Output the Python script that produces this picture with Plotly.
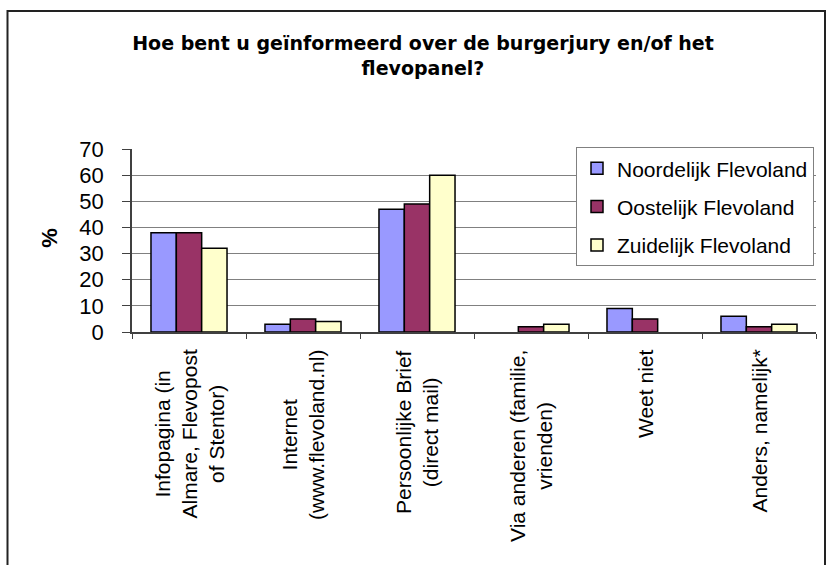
import plotly.graph_objects as go

# category labels (as printed under the axis)
categories = [
    "Infopagina (in<br>Almare, Flevopost<br>of Stentor)",
    "Internet<br>(www.flevoland.nl)",
    "Persoonlijke Brief<br>(direct mail)",
    "Via anderen (familie,<br>vrienden)",
    "Weet niet",
    "Anders, namelijk*",
]
series_names = ["Noordelijk Flevoland", "Oostelijk Flevoland", "Zuidelijk Flevoland"]
noord = [38, 3, 47, 0, 9, 6]
oost = [38, 5, 49, 2, 5, 2]
zuid = [32, 4, 60, 3, 0, 3]
y_ticks = [0, 10, 20, 30, 40, 50, 60, 70]

colors = ["#9999FF", "#993366", "#FFFFCC"]
FONT = "Liberation Sans, Arial, sans-serif"

W, H = 826, 565
L, R, T, B = 132, 10, 149, 233
pw, ph = W - L - R, H - T - B

fig = go.Figure()
for i, (name, vals) in enumerate(zip(series_names, [noord, oost, zuid])):
    fig.add_trace(go.Bar(
        x=categories, y=vals, name=name,
        # no outline on empty bars, like the original
        marker=dict(color=colors[i],
                    line=dict(color="black", width=[1.5 if v else 0 for v in vals])),
        legendgroup=name,
    ))

# x labels, rotated with centred lines
for c in categories:
    fig.add_annotation(
        x=c, xref="x", y=0, yref="paper", yshift=-16,
        text=c, textangle=-90, showarrow=False,
        xanchor="center", yanchor="top", align="center",
        font=dict(family=FONT, size=21, color="black"),
    )

# y axis title
fig.add_annotation(
    x=(50 - L) / pw, xref="paper", y=0.515, yref="paper",
    text="<b>%</b>", textangle=-90, showarrow=False,
    xanchor="center", yanchor="middle",
    font=dict(family=FONT, size=22, color="black"),
)

# outer chart border
fig.add_shape(
    type="rect", xref="paper", yref="paper",
    x0=(7.5 - L) / pw, x1=(825 - L) / pw,
    y0=(T + ph - 575) / ph, y1=(T + ph - 11) / ph,
    line=dict(color="#222222", width=2), layer="below",
)

fig.update_layout(
    width=W, height=H,
    margin=dict(l=L, r=R, t=T, b=B),
    paper_bgcolor="white", plot_bgcolor="white",
    barmode="group", bargap=0.333, bargroupgap=0,
    title=dict(
        text="Hoe bent u geïnformeerd over de burgerjury en/of het<br>flevopanel?",
        font=dict(family="DejaVu Sans, sans-serif", size=19, color="black", weight="bold"),
        x=423 / W, xanchor="center", xref="container",
        y=1 - 50 / H, yanchor="top", yref="container",
    ),
    legend=dict(
        x=(576 - L) / pw, y=1.01, xanchor="left", yanchor="top",
        bordercolor="#808080", borderwidth=1, bgcolor="white",
        font=dict(family=FONT, size=21, color="black"),
        traceorder="grouped", tracegroupgap=8,
    ),
    showlegend=True,
)

fig.update_xaxes(
    showticklabels=False, tickson="boundaries",
    ticks="outside", ticklen=5, tickcolor="#404040",
    showline=True, linecolor="#404040", linewidth=1.5,
    showgrid=False, fixedrange=True,
)
fig.update_yaxes(
    range=[0, 70], tickvals=y_ticks,
    ticks="outside", ticklen=8, tickcolor="#404040", ticklabelstandoff=14,
    tickfont=dict(family=FONT, size=22, color="black"),
    showline=True, linecolor="#404040", linewidth=1.5,
    showgrid=True, gridcolor="#808080", gridwidth=1,
    zeroline=False, fixedrange=True,
)

fig.write_html("out.html", config={"displayModeBar": False},
               post_script="document.body.style.margin='0';")
